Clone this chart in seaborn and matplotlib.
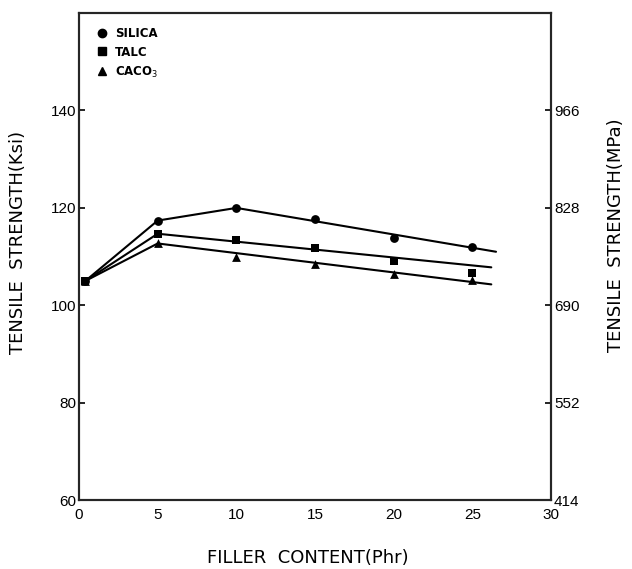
import pandas as pd
import matplotlib
matplotlib.use("Agg")
import matplotlib.pyplot as plt
import seaborn as sns
from matplotlib.lines import Line2D

# measured points (Ksi)
filler = [0, 5, 10, 15, 20, 25]
silica = [105.0, 117.4, 120.0, 117.8, 113.9, 111.9]
talc = [105.0, 114.7, 113.5, 111.7, 109.2, 106.7]
caco3 = [105.0, 112.7, 110.0, 108.5, 106.5, 105.1]

# drawn trend lines (vertices)
silica_fit_x = [0.4, 5, 10, 26.5]
silica_fit_y = [105.0, 117.4, 120.0, 111.0]
talc_fit_x = [0.4, 5, 26.2]
talc_fit_y = [105.0, 114.7, 107.8]
caco3_fit_x = [0.4, 5, 26.2]
caco3_fit_y = [105.0, 112.7, 104.3]

ksi_ticks = [60, 80, 100, 120, 140]
mpa_ticks = [414, 552, 690, 828, 966]
x_ticks = [0, 5, 10, 15, 20, 25, 30]

sns.set_style("white")
plt.rcParams['font.family'] = ['Liberation Sans', 'DejaVu Sans']
plt.rcParams['text.color'] = 'black'
plt.rcParams['axes.labelcolor'] = 'black'

fig = plt.figure(figsize=(6.32, 5.69), dpi=100)
ax = fig.add_axes([0.125, 0.121, 0.747, 0.856])

pts_x = [0.4] + filler[1:]
series = [("SILICA", silica, silica_fit_x, silica_fit_y, "o"),
          ("TALC", talc, talc_fit_x, talc_fit_y, "s"),
          ("CACO$_3$", caco3, caco3_fit_x, caco3_fit_y, "^")]

for name, vals, fx, fy, mk in series:
    sns.lineplot(x=fx, y=fy, ax=ax, color="black", lw=1.5, sort=False)
    sns.scatterplot(x=pts_x, y=vals, ax=ax, color="black", marker=mk,
                    s=40, edgecolor="black", linewidth=0, zorder=3)

ax.set_xlim(0, 30)
ax.set_ylim(60, 160)
ax.set_xticks(x_ticks)
ax.set_yticks(ksi_ticks)
for sp in ax.spines.values():
    sp.set_color("black")
    sp.set_linewidth(1.5)
ax.tick_params(axis="both", direction="in", length=4, width=1.2, labelsize=11,
               colors="black", pad=2)
ax.tick_params(axis="x", pad=6)

lab_font = {"family": "DejaVu Sans", "size": 13, "color": "black"}
ax.set_xlabel("FILLER  CONTENT(Phr)", fontdict=lab_font)
ax.set_ylabel("TENSILE  STRENGTH(Ksi)", fontdict=lab_font)
ax.xaxis.set_label_coords(0.484, -0.1)
ax.yaxis.set_label_coords(-0.11, 0.53)

ax2 = ax.twinx()
ax2.set_ylim(414, 414 + 100 * 6.9)
ax2.set_yticks(mpa_ticks)
ax2.tick_params(axis="y", direction="in", length=4, width=1.2, labelsize=11,
                colors="black", pad=2)
for sp in ax2.spines.values():
    sp.set_linewidth(1.5)
ax2.set_ylabel("TENSILE  STRENGTH(MPa)", fontdict=lab_font)
ax2.yaxis.set_label_coords(1.119, 0.544)

handles = [Line2D([], [], ls="none", marker=mk, color="black", markersize=6)
           for _, _, _, _, mk in series]
labels = [s[0] for s in series]
leg = ax.legend(handles, labels, loc="upper left", frameon=False,
                bbox_to_anchor=(0.039, 0.972), borderpad=0, borderaxespad=0,
                handlelength=0.7, handletextpad=0.77, labelspacing=0.5,
                prop={"family": "DejaVu Sans", "weight": "bold", "size": 8.5})
for t in leg.get_texts():
    t.set_color("black")

fig.savefig("out.png", dpi=100)
